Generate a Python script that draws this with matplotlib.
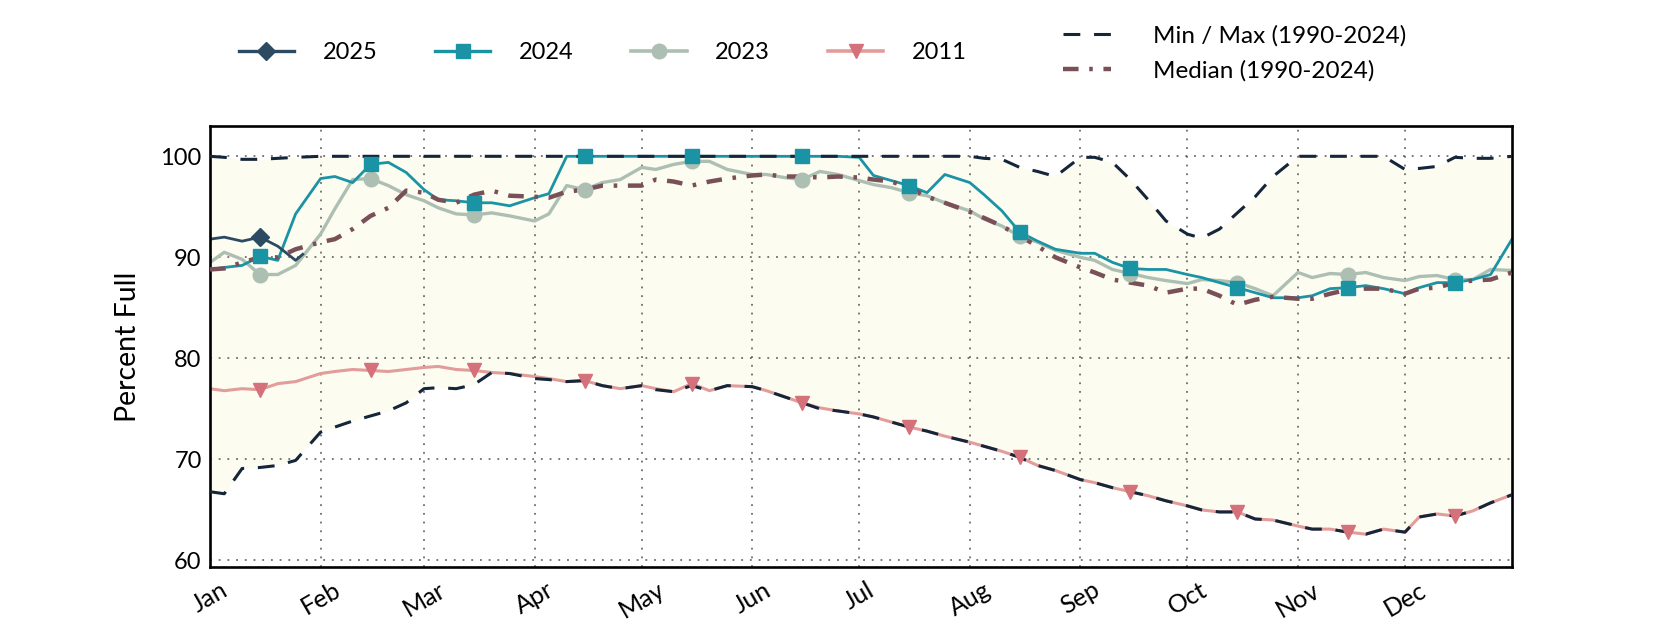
import numpy as np
import pandas as pd
import matplotlib
matplotlib.use("Agg")
import matplotlib.pyplot as plt
import matplotlib.dates as mdates
from matplotlib.lines import Line2D

plt.rcParams['font.family'] = ['Lato', 'DejaVu Sans']

# sample days of each month (+ Dec 31), plotted on a leap-year calendar
sample_days = [1, 5, 10, 15, 20, 25]
dates = [f"2024-{m:02d}-{d:02d}" for m in range(1, 13) for d in sample_days] + ["2024-12-31"]
dates_2025 = ["2024-01-01", "2024-01-05", "2024-01-10", "2024-01-15",
              "2024-01-20", "2024-01-25", "2024-01-27"]

y2025 = [91.8, 92.0, 91.6, 92.0, 91.1, 89.7, 90.3]

y2024 = [88.8, 89.0, 89.2, 90.1, 89.7, 94.3,
         97.8, 98.0, 97.4, 99.2, 99.4, 98.4,
         96.7, 95.7, 95.6, 95.4, 95.4, 95.1,
         95.9, 96.3, 100.0, 100.0, 100.0, 100.0,
         100.0, 100.0, 100.0, 100.0, 100.0, 100.0,
         100.0, 100.0, 100.0, 100.0, 100.0, 100.0,
         99.9, 98.1, 97.6, 97.1, 96.4, 98.2,
         97.4, 96.2, 94.6, 92.5, 91.6, 90.8,
         90.4, 90.4, 89.5, 88.9, 88.8, 88.8,
         88.3, 88.0, 87.5, 87.0, 86.5, 86.0,
         86.0, 86.2, 86.9, 87.0, 87.2, 86.9,
         86.4, 87.0, 87.5, 87.5, 87.8, 88.3,
         91.8]

y2023 = [89.5, 90.5, 89.8, 88.3, 88.3, 89.2,
         92.3, 94.8, 97.7, 97.8, 97.1, 96.2,
         95.6, 94.9, 94.3, 94.2, 94.4, 94.1,
         93.6, 94.3, 97.1, 96.7, 97.4, 97.7,
         98.9, 98.7, 99.2, 99.5, 99.5, 98.7,
         98.2, 98.2, 97.9, 97.7, 98.5, 98.2,
         97.6, 97.2, 96.9, 96.4, 96.1, 95.4,
         94.6, 93.8, 93.1, 92.1, 91.5, 90.7,
         90.0, 89.7, 88.8, 88.4, 88.0, 87.7,
         87.4, 87.8, 87.7, 87.5, 86.9, 86.2,
         88.5, 88.0, 88.4, 88.3, 88.5, 88.0,
         87.7, 88.1, 88.2, 87.8, 87.8, 88.8,
         88.7]

y2011 = [77.0, 76.8, 77.0, 76.9, 77.5, 77.7,
         78.5, 78.7, 78.9, 78.8, 78.7, 78.9,
         79.1, 79.2, 78.9, 78.8, 78.6, 78.5,
         78.2, 78.0, 77.7, 77.8, 77.3, 77.0,
         77.3, 77.0, 76.7, 77.5, 76.8, 77.3,
         77.2, 76.8, 76.2, 75.6, 75.1, 74.8,
         74.5, 74.2, 73.7, 73.2, 72.8, 72.3,
         71.7, 71.3, 70.8, 70.2, 69.4, 68.9,
         68.0, 67.7, 67.2, 66.8, 66.4, 65.9,
         65.4, 65.0, 64.8, 64.8, 64.1, 64.0,
         63.4, 63.1, 63.1, 62.8, 62.6, 63.1,
         62.8, 64.3, 64.6, 64.4, 64.9, 65.7,
         66.5]

pct_min = [66.8, 66.6, 69.1, 69.2, 69.4, 69.9,
           72.7, 73.2, 73.8, 74.3, 74.8, 75.6,
           77.0, 77.1, 77.0, 77.4, 78.6, 78.5,
           78.0, 77.9, 77.7, 77.8, 77.3, 77.0,
           77.3, 76.9, 76.7, 77.3, 76.8, 77.3,
           77.2, 76.8, 76.2, 75.6, 75.0, 74.8,
           74.5, 74.2, 73.7, 73.2, 72.8, 72.3,
           71.7, 71.3, 70.8, 70.2, 69.4, 68.9,
           68.0, 67.7, 67.2, 66.8, 66.4, 65.9,
           65.4, 65.0, 64.8, 64.8, 64.1, 64.0,
           63.4, 63.1, 63.1, 62.8, 62.6, 63.1,
           62.8, 64.3, 64.6, 64.4, 64.9, 65.7,
           66.5]

pct_max = [100.0, 99.9, 99.7, 99.7, 99.8, 99.9,
           100.0, 100.0, 100.0, 100.0, 100.0, 100.0,
           100.0, 100.0, 100.0, 100.0, 100.0, 100.0,
           100.0, 100.0, 100.0, 100.0, 100.0, 100.0,
           100.0, 100.0, 100.0, 100.0, 100.0, 100.0,
           100.0, 100.0, 100.0, 100.0, 100.0, 100.0,
           100.0, 100.0, 100.0, 100.0, 100.0, 100.0,
           100.0, 99.8, 99.7, 98.9, 98.5, 98.0,
           99.9, 99.9, 99.4, 97.7, 95.7, 93.6,
           92.3, 91.9, 92.8, 94.4, 96.0, 98.0,
           100.0, 100.0, 100.0, 100.0, 100.0, 100.0,
           98.7, 98.8, 99.0, 99.9, 99.8, 99.8,
           100.0]

median = [88.8, 88.9, 89.5, 90.0, 90.0, 90.8,
          91.5, 91.8, 92.8, 94.1, 94.9, 96.6,
          96.4, 95.7, 95.4, 96.2, 96.6, 96.1,
          96.0, 95.9, 96.5, 96.7, 97.1, 97.1,
          97.1, 97.7, 97.5, 97.1, 97.5, 97.8,
          98.1, 98.2, 98.0, 98.0, 97.9, 98.0,
          97.9, 97.7, 97.5, 96.9, 96.0, 95.4,
          94.5, 93.9, 93.1, 92.1, 91.1, 90.0,
          89.0, 88.5, 87.8, 87.5, 87.2, 86.5,
          86.9, 86.9, 86.2, 85.3, 85.8, 86.1,
          85.9, 85.9, 86.4, 86.8, 86.9, 86.9,
          86.4, 86.9, 87.0, 87.5, 87.7, 87.8,
          88.5]

c2025 = '#2c4a62'
c2024 = '#1a93a5'
c2023 = '#adbfb3'
c2011_line = '#e29d9b'
c2011 = '#d4717a'
c_minmax = '#15253a'
c_median = '#7a5058'

x = pd.to_datetime(dates)
x25 = pd.to_datetime(dates_2025)
mid = [i for i, d in enumerate(dates) if d.endswith("-15")]
mid25 = [i for i, d in enumerate(dates_2025) if d.endswith("-15")]

fig = plt.figure(figsize=(16.8, 6.3), dpi=100)
ax = fig.add_axes([0.125, 0.1, 0.775, 0.7])

ax.fill_between(x, pct_min, pct_max, color='#fcfcf1', lw=0, zorder=0)

# lines
ax.plot(x, y2011, color=c2011_line, lw=2.2, zorder=2)
ax.plot(x, y2023, color=c2023, lw=2.4, zorder=2)
ax.plot(x, y2024, color=c2024, lw=2.0, zorder=2)
ax.plot(x25, y2025, color=c2025, lw=2.0, zorder=2)

ax.plot(x, pct_min, color=c_minmax, lw=2.2, dashes=(5.5, 4.5), zorder=3)
ax.plot(x, pct_max, color=c_minmax, lw=2.2, dashes=(5.5, 4.5), zorder=3)
ax.plot(x, median, color=c_median, lw=3.2, dashes=(3.5, 2.4, 0.8, 2.4), zorder=3)

# mid-month markers on top
y11 = np.array(y2011)
y23 = np.array(y2023)
y24 = np.array(y2024)
y25 = np.array(y2025)
ax.plot(x[mid], y11[mid], ls='none', marker='v', ms=10.5, color=c2011, zorder=4)
ax.plot(x[mid], y23[mid], ls='none', marker='o', ms=10.5, color=c2023, zorder=4)
ax.plot(x[mid], y24[mid], ls='none', marker='s', ms=10, color=c2024, zorder=5)
ax.plot(x25[mid25], y25[mid25], ls='none', marker='D', ms=9.5, color=c2025, zorder=6)

ax.set_xlim(pd.Timestamp('2024-01-01'), pd.Timestamp('2024-12-31'))
ax.set_ylim(59.35, 103)
ax.set_yticks([60, 70, 80, 90, 100])
ax.xaxis.set_major_locator(mdates.MonthLocator())
ax.xaxis.set_major_formatter(mdates.DateFormatter('%b'))

ax.grid(True, color='#555555', linestyle=(0, (1.2, 4.5)), lw=1.1)
ax.tick_params(axis='both', length=0)
ax.tick_params(axis='x', pad=8, labelsize=18)
ax.tick_params(axis='y', pad=6, labelsize=17)
for lab in ax.get_xticklabels():
    lab.set_rotation(30)
    lab.set_ha('center')
for sp in ax.spines.values():
    sp.set_linewidth(1.9)
    sp.set_color('black')

ax.set_ylabel('Percent Full', fontsize=20.5, labelpad=14)

# legends
h_years = [
    Line2D([], [], color=c2025, lw=2.4, marker='D', ms=9.5),
    Line2D([], [], color=c2024, lw=2.4, marker='s', ms=10),
    Line2D([], [], color=c2023, lw=2.6, marker='o', ms=10.5),
    Line2D([], [], color=c2011_line, lw=2.6, marker='v', ms=10.5,
           markerfacecolor=c2011, markeredgecolor=c2011),
]
fig.legend(h_years, ['2025', '2024', '2023', '2011'], loc='center left',
           bbox_to_anchor=(0.142, 0.916), ncol=4, frameon=False, fontsize=17,
           handlelength=2.35, handletextpad=1.2, columnspacing=2.45,
           borderpad=0, borderaxespad=0)

h_stats = [
    Line2D([], [], color=c_minmax, lw=2.2, dashes=(5.5, 4.5)),
    Line2D([], [], color=c_median, lw=3.2, dashes=(3.5, 2.4, 0.8, 2.4)),
]
fig.legend(h_stats, ['Min / Max (1990-2024)', 'Median (1990-2024)'],
           loc='center left', bbox_to_anchor=(0.633, 0.916), frameon=False,
           fontsize=17.5, handlelength=1.95, handletextpad=1.75,
           labelspacing=0.55, borderpad=0, borderaxespad=0)

fig.savefig('out.png', dpi=100)
